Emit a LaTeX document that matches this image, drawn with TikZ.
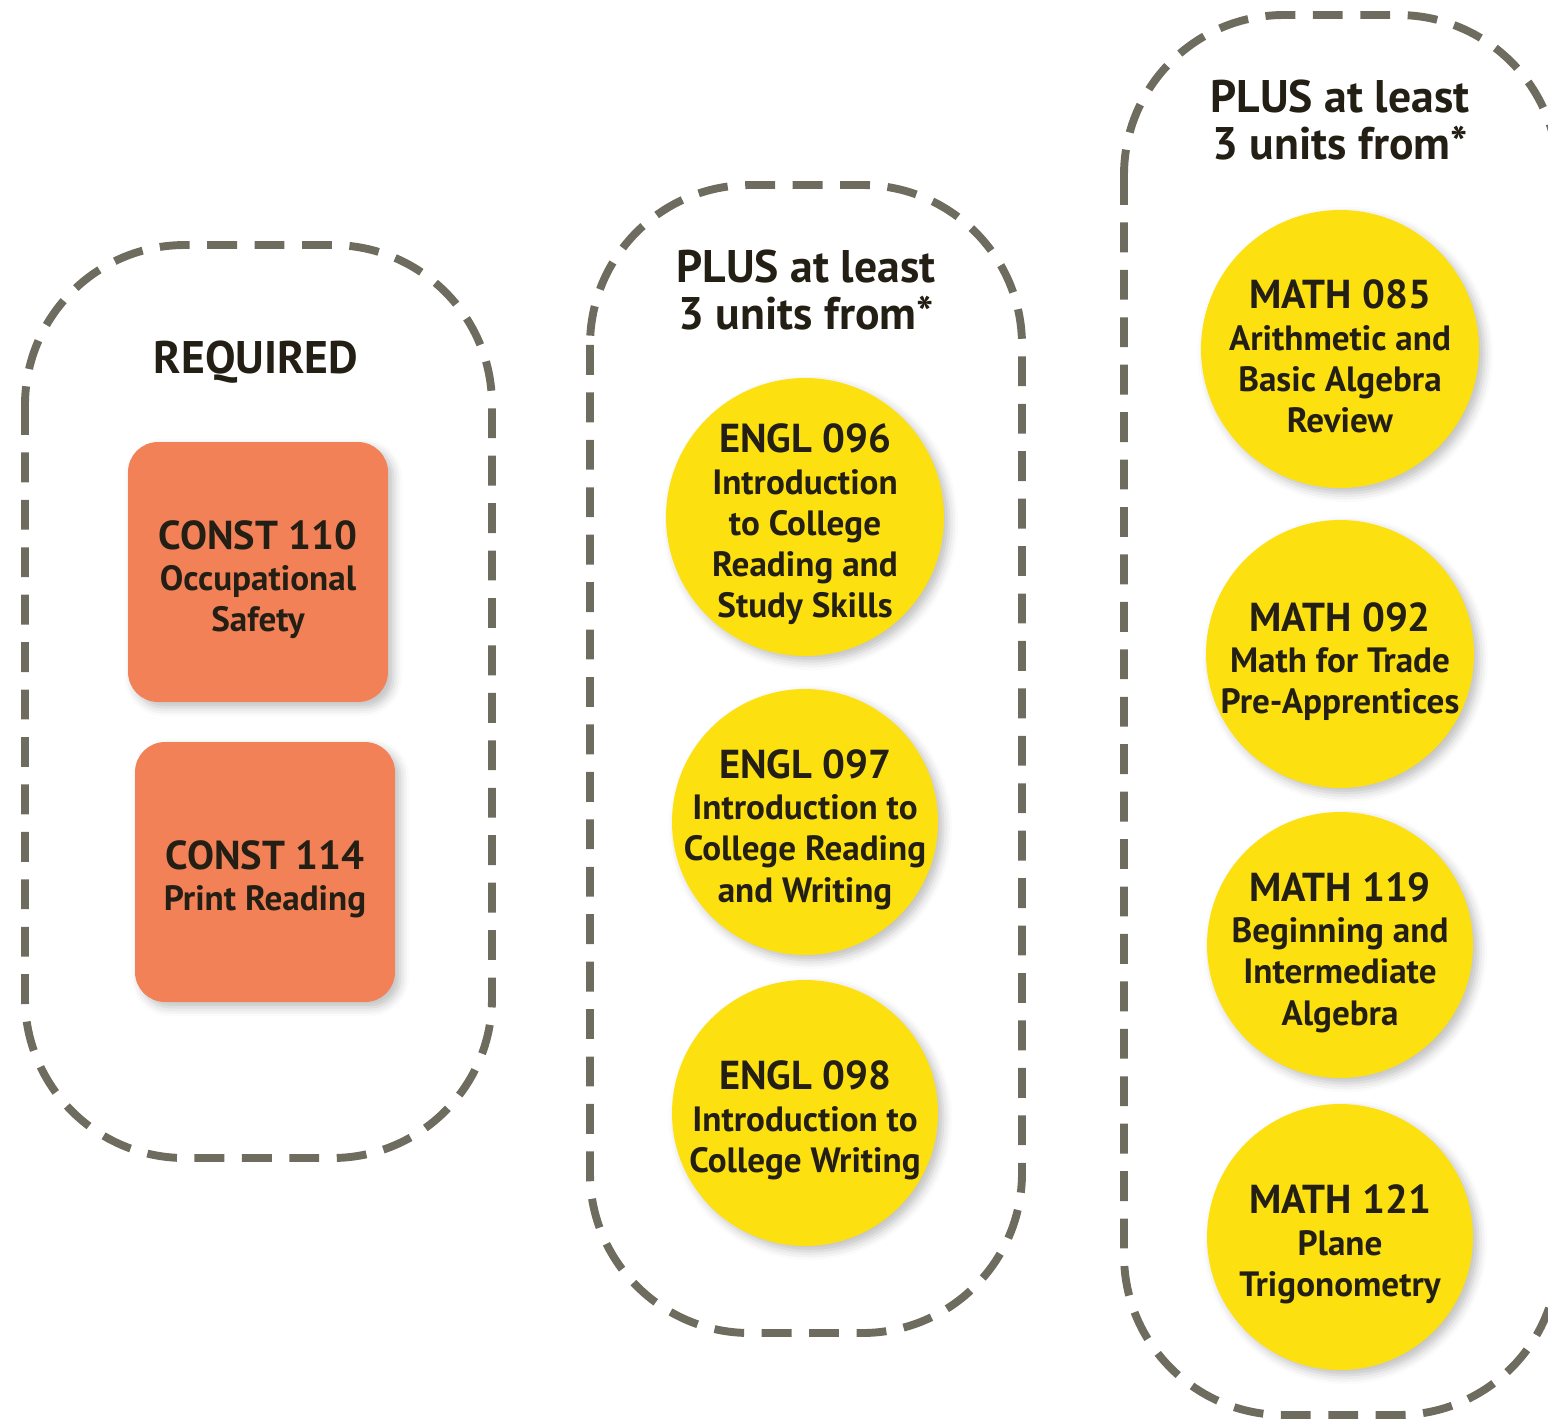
\documentclass[tikz,border=0pt]{standalone}
\usepackage{fontspec}
\setmainfont{PT Sans}
\usepackage{tikz}
\usetikzlibrary{shadows.blur}
\definecolor{dashgray}{HTML}{6E6C5F}
\definecolor{boxorange}{HTML}{F28157}
\definecolor{discyellow}{HTML}{FDE010}
\definecolor{inkdark}{HTML}{231F14}
\newcommand{\coursecode}[1]{{\fontsize{23}{28}\selectfont\rule{0pt}{25pt}#1}}

\begin{document}
\begin{tikzpicture}[x=0.02cm,y=-0.02cm,
	group/.style={draw=dashgray,line width=4.5pt,dash pattern=on 17pt off 10pt,rounded corners=3.2cm},
	heading/.style={text=inkdark,align=center,font=\fontsize{26}{27}\selectfont\bfseries},
	course/.style={text=inkdark,align=center,font=\fontsize{20}{23.5}\selectfont\bfseries,
		blur shadow={shadow xshift=3pt,shadow yshift=-3pt,shadow blur radius=5pt,shadow opacity=25}},
	req/.style={course,fill=boxorange,rounded corners=0.6cm,minimum size=5.2cm,inner sep=0pt},
	opt/.style={course,fill=discyellow,circle,inner sep=-1cm}]
	\useasboundingbox (0,0) rectangle (1548,1421);

	\draw [group] (25,245) rectangle (492,1158);
	\draw [group] (590,185) rectangle (1022,1333);
	\draw [group] (1124,15) rectangle (1558,1415);

	\node [heading] (req title) at (256,362) {REQUIRED};
	\node [heading] (engl title) at (806,290) {PLUS at least\\3 units from*};
	\node [heading] (math title) at (1340,120) {PLUS at least\\3 units from*};

	\node [req] (const110) at (258,572)
	{
		\coursecode{CONST 110}\\
		Occupational\\
		Safety
	};
	\node [req] (const114) at (265,872)
	{
		\coursecode{CONST 114}\\
		Print Reading
	};

	\node [opt,minimum size=5.56cm] (engl096) at (805,517)
	{
		\coursecode{ENGL 096}\\
		Introduction\\
		to College\\
		Reading and\\
		Study Skills
	};
	\node [opt,minimum size=5.32cm] (engl097) at (805,822)
	{
		\coursecode{ENGL 097}\\
		Introduction to\\
		College Reading\\
		and Writing
	};
	\node [opt,minimum size=5.32cm] (engl098) at (805,1113)
	{
		\coursecode{ENGL 098}\\
		Introduction to\\
		College Writing
	};

	\node [opt,minimum size=5.56cm] (math085) at (1340,349)
	{
		\coursecode{MATH 085}\\
		Arithmetic and\\
		Basic Algebra\\
		Review
	};
	\node [opt,minimum size=5.36cm] (math092) at (1340,654)
	{
		\coursecode{MATH 092}\\
		Math for Trade\\
		Pre-Apprentices
	};
	\node [opt,minimum size=5.32cm] (math119) at (1340,945)
	{
		\coursecode{MATH 119}\\
		Beginning and\\
		Intermediate\\
		Algebra
	};
	\node [opt,minimum size=5.32cm] (math121) at (1340,1237)
	{
		\coursecode{MATH 121}\\
		Plane\\
		Trigonometry
	};
\end{tikzpicture}
\end{document}
